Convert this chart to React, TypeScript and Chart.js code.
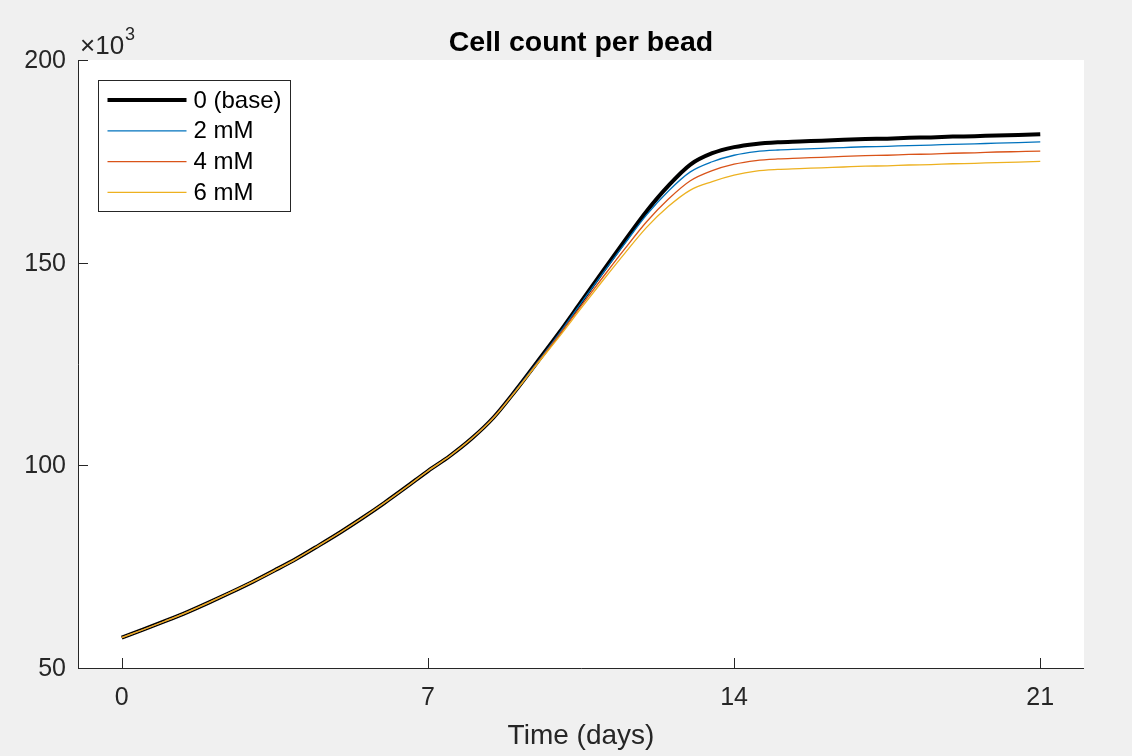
import React, { useEffect, useRef } from "react";
import { Chart, registerables } from "chart.js";

Chart.register(...registerables);

// ---- data (cell count per bead, in thousands) ----
const days = [
  0, 0.5, 1, 1.5, 2, 2.5, 3, 3.5, 4, 4.5, 5, 5.5, 6, 6.5, 7, 7.5, 8, 8.5, 9, 9.5, 10,
  10.5, 11, 11.5, 12, 12.5, 13, 13.5, 14, 14.5, 15, 15.5, 16, 16.5, 17, 17.5, 18, 18.5,
  19, 19.5, 20, 20.5, 21,
];

const base0 = [
  57.5, 59.5, 61.6, 63.8, 66.2, 68.7, 71.3, 74.1, 77.0, 80.2, 83.5, 87.0, 90.7, 94.6,
  98.6, 102.3, 106.6, 111.8, 118.4, 125.5, 132.7, 140.3, 147.9, 155.4, 162.7, 169.0,
  174.2, 177.0, 178.5, 179.3, 179.7, 179.9, 180.1, 180.3, 180.5, 180.6, 180.8, 180.9,
  181.1, 181.2, 181.4, 181.5, 181.7,
];

const mM2 = [
  57.5, 59.5, 61.6, 63.8, 66.2, 68.7, 71.3, 74.1, 77.0, 80.2, 83.5, 87.0, 90.7, 94.6,
  98.6, 102.3, 106.6, 111.8, 118.4, 125.4, 132.5, 140.0, 147.4, 154.7, 161.8, 167.7,
  172.4, 174.9, 176.5, 177.4, 177.8, 178.0, 178.2, 178.4, 178.6, 178.7, 178.9, 179.0,
  179.2, 179.3, 179.5, 179.6, 179.8,
];

const mM4 = [
  57.5, 59.5, 61.6, 63.8, 66.2, 68.7, 71.3, 74.1, 77.0, 80.2, 83.5, 87.0, 90.7, 94.6,
  98.6, 102.3, 106.6, 111.8, 118.3, 125.2, 132.1, 139.3, 146.4, 153.4, 160.1, 165.7,
  170.2, 172.7, 174.3, 175.2, 175.6, 175.8, 176.0, 176.2, 176.4, 176.5, 176.7, 176.8,
  177.0, 177.1, 177.3, 177.4, 177.5,
];

const mM6 = [
  57.5, 59.5, 61.6, 63.8, 66.2, 68.7, 71.3, 74.1, 77.0, 80.2, 83.5, 87.0, 90.7, 94.6,
  98.6, 102.3, 106.6, 111.7, 118.2, 125.0, 131.7, 138.7, 145.6, 152.3, 158.7, 163.9,
  167.9, 170.0, 171.6, 172.6, 173.0, 173.2, 173.4, 173.6, 173.8, 173.9, 174.1, 174.2,
  174.4, 174.5, 174.7, 174.8, 175.0,
];

const seriesLabels = ["0 (base)", "2 mM", "4 mM", "6 mM"];
const seriesColors = ["#000000", "#0072BD", "#D95319", "#EDB120"];
const seriesWidths = [4, 1.3, 1.3, 1.3];
const xTicks = [0, 7, 14, 21];
const yTicks = [50, 100, 150, 200];
const titleText = "Cell count per bead";
const xLabelText = "Time (days)";

const AXIS = "#262626";
const FONT = "'Liberation Sans', Arial, Helvetica, sans-serif";

const matlabAxes = {
  id: "matlabAxes",
  beforeDraw(chart: any) {
    const { ctx, chartArea: a } = chart;
    ctx.save();
    ctx.fillStyle = "#f0f0f0";
    ctx.fillRect(0, 0, chart.width, chart.height);
    ctx.fillStyle = "#ffffff";
    ctx.fillRect(a.left, a.top, a.right - a.left, a.bottom - a.top);
    ctx.restore();
  },
  afterDraw(chart: any) {
    const { ctx, chartArea: a, scales } = chart;
    const xs = scales.x;
    const ys = scales.y;
    ctx.save();
    ctx.strokeStyle = AXIS;
    ctx.lineWidth = 1;
    // axis lines
    ctx.beginPath();
    ctx.moveTo(Math.round(a.left) + 0.5, a.top);
    ctx.lineTo(Math.round(a.left) + 0.5, Math.round(a.bottom) + 0.5);
    ctx.lineTo(a.right, Math.round(a.bottom) + 0.5);
    ctx.stroke();
    // ticks
    ctx.beginPath();
    xTicks.forEach((t) => {
      const px = Math.round(xs.getPixelForValue(t)) + 0.5;
      ctx.moveTo(px, a.bottom);
      ctx.lineTo(px, a.bottom - 10);
    });
    yTicks.forEach((t) => {
      const py = Math.round(ys.getPixelForValue(t)) + 0.5;
      ctx.moveTo(a.left, py);
      ctx.lineTo(a.left + 10, py);
    });
    ctx.stroke();

    // tick labels
    ctx.fillStyle = AXIS;
    ctx.font = `25px ${FONT}`;
    ctx.textAlign = "center";
    ctx.textBaseline = "alphabetic";
    xTicks.forEach((t) => {
      ctx.fillText(String(t), xs.getPixelForValue(t), a.bottom + 37);
    });
    ctx.textAlign = "right";
    ctx.textBaseline = "middle";
    yTicks.forEach((t) => {
      ctx.fillText(String(t), a.left - 12, ys.getPixelForValue(t) + 1);
    });

    // exponent ×10^3
    ctx.textAlign = "left";
    ctx.textBaseline = "alphabetic";
    ctx.font = `26px ${FONT}`;
    ctx.fillText("\u00d710", a.left + 2, a.top - 6);
    const w = ctx.measureText("\u00d710").width;
    ctx.font = `18px ${FONT}`;
    ctx.fillText("3", a.left + 3 + w, a.top - 20);

    // x label
    ctx.font = `28px ${FONT}`;
    ctx.textAlign = "center";
    ctx.fillText(xLabelText, (a.left + a.right) / 2, a.bottom + 76);

    // title
    ctx.fillStyle = "#000000";
    ctx.font = `bold 28.5px ${FONT}`;
    ctx.fillText(titleText, (a.left + a.right) / 2, a.top - 9);

    // legend
    const bx = a.left + 20.5;
    const by = a.top + 20.5;
    const bw = 192;
    const bh = 131;
    ctx.fillStyle = "#ffffff";
    ctx.fillRect(bx, by, bw, bh);
    ctx.strokeStyle = AXIS;
    ctx.lineWidth = 1;
    ctx.strokeRect(bx, by, bw, bh);
    ctx.font = `24px ${FONT}`;
    ctx.textAlign = "left";
    ctx.textBaseline = "middle";
    chart.data.datasets.forEach((ds: any, i: number) => {
      const ry = by + 19.5 + i * 30.8;
      ctx.strokeStyle = ds.borderColor;
      ctx.lineWidth = ds.borderWidth;
      ctx.beginPath();
      ctx.moveTo(bx + 9, ry);
      ctx.lineTo(bx + 88, ry);
      ctx.stroke();
      ctx.fillStyle = "#000000";
      ctx.fillText(ds.label, bx + 95, ry + 1);
    });
    ctx.restore();
  },
};

export default function App() {
  const ref = useRef<HTMLCanvasElement | null>(null);
  useEffect(() => {
    if (!ref.current) return;
    const all = [base0, mM2, mM4, mM6];
    const chart = new Chart(ref.current, {
      type: "line",
      data: {
        datasets: all.map((vals, i) => ({
          label: seriesLabels[i],
          data: days.map((d, j) => ({ x: d, y: vals[j] })),
          borderColor: seriesColors[i],
          backgroundColor: seriesColors[i],
          borderWidth: seriesWidths[i],
          pointRadius: 0,
          fill: false,
          cubicInterpolationMode: "monotone" as const,
          order: 3 - i,
        })),
      },
      options: {
        animation: false,
        responsive: false,
        maintainAspectRatio: false,
        devicePixelRatio: 1,
        layout: { padding: { left: 78, top: 60, right: 48, bottom: 88 } },
        plugins: {
          legend: { display: false },
          title: { display: false },
          tooltip: { enabled: false },
        },
        events: [],
        scales: {
          x: { type: "linear", min: -1, max: 22, display: false },
          y: { type: "linear", min: 50, max: 200, display: false },
        },
      },
      plugins: [matlabAxes],
    });
    return () => chart.destroy();
  }, []);
  return (
    <div style={{ position: "fixed", left: 0, top: 0, width: 1132, height: 756, background: "#f0f0f0" }}>
      <canvas ref={ref} width={1132} height={756} style={{ display: "block", width: 1132, height: 756 }} />
    </div>
  );
}
